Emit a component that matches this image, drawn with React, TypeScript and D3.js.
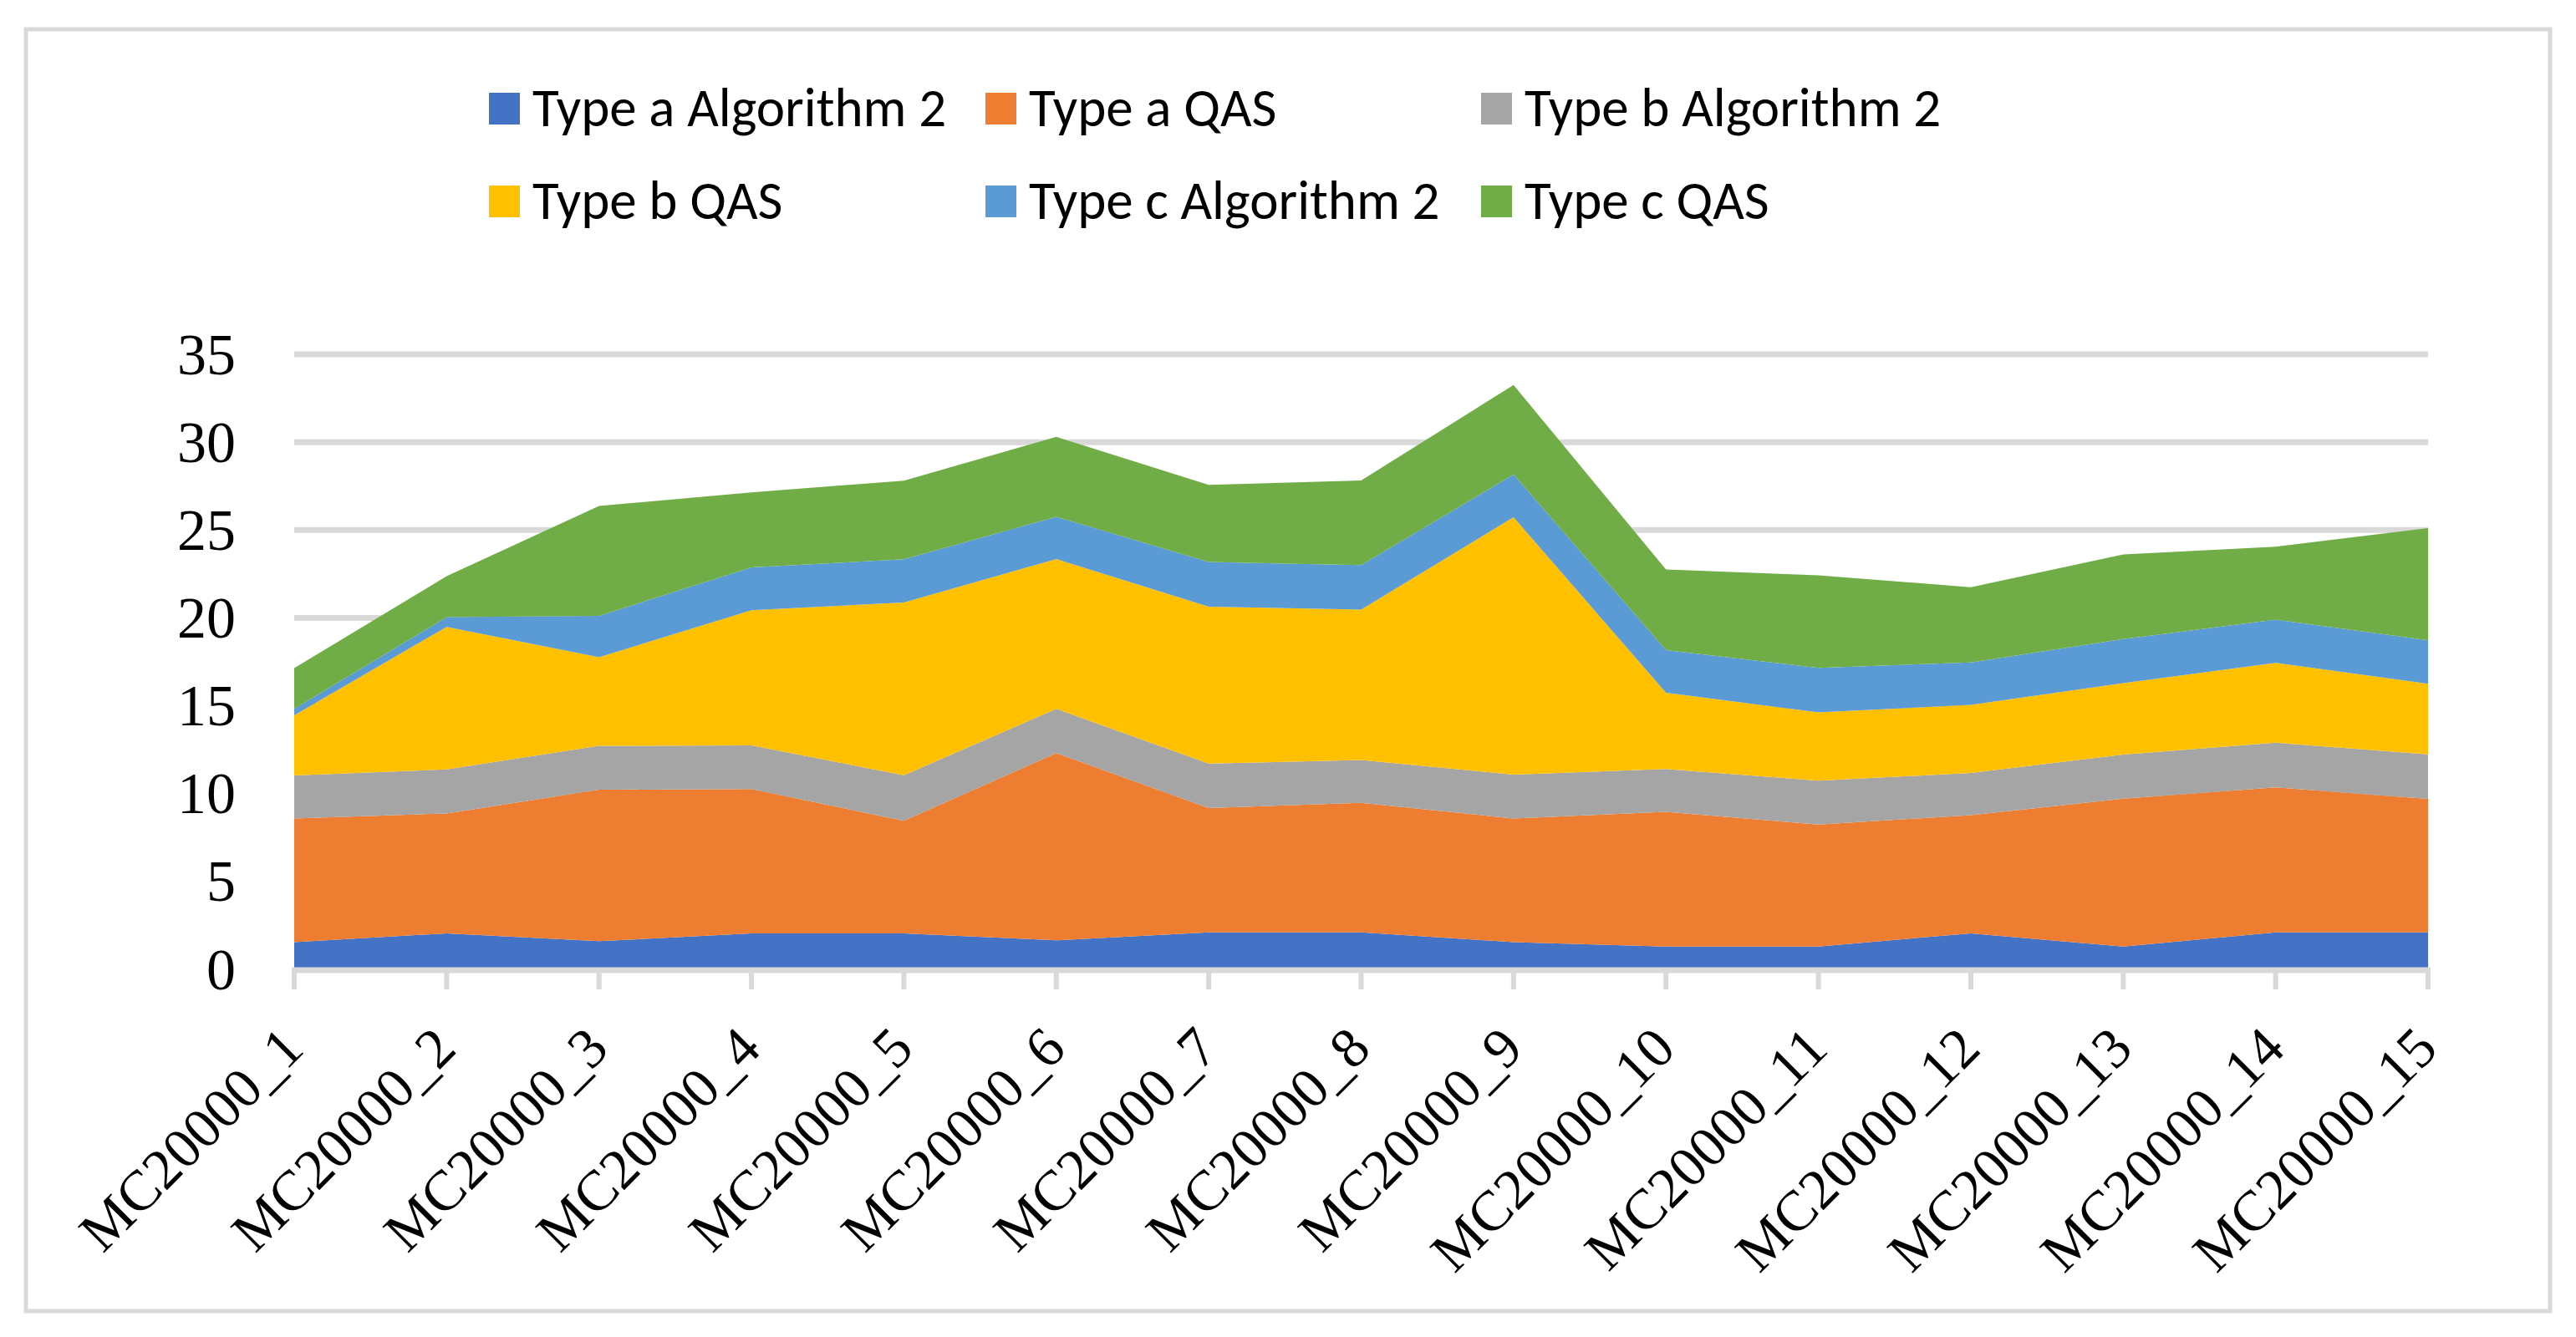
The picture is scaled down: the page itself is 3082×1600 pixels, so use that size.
import * as d3 from "d3";
import React from "react";

const categories = [
  "MC20000_1", "MC20000_2", "MC20000_3", "MC20000_4", "MC20000_5",
  "MC20000_6", "MC20000_7", "MC20000_8", "MC20000_9", "MC20000_10",
  "MC20000_11", "MC20000_12", "MC20000_13", "MC20000_14", "MC20000_15",
];

const typeAAlg2 = [1.55, 2.05, 1.6, 2.05, 2.05, 1.65, 2.1, 2.1, 1.55, 1.3, 1.3, 2.05, 1.3, 2.1, 2.1];
const typeAQAS = [7.03, 6.82, 8.62, 8.21, 6.4, 10.65, 7.08, 7.38, 7.03, 7.66, 6.94, 6.72, 8.41, 8.25, 7.6];
const typeBAlg2 = [2.45, 2.51, 2.5, 2.48, 2.6, 2.53, 2.53, 2.43, 2.5, 2.44, 2.49, 2.41, 2.51, 2.55, 2.53];
const typeBQAS = [3.43, 8.11, 5.04, 7.7, 9.83, 8.52, 8.93, 8.56, 14.65, 4.34, 3.89, 3.87, 4.07, 4.54, 4.02];
const typeCAlg2 = [0.37, 0.55, 2.36, 2.43, 2.46, 2.4, 2.54, 2.53, 2.43, 2.43, 2.54, 2.41, 2.5, 2.46, 2.48];
const typeCQAS = [2.31, 2.33, 6.25, 4.27, 4.47, 4.55, 4.39, 4.82, 5.09, 4.59, 5.26, 4.29, 4.82, 4.15, 6.38];

const yTicks = [0, 5, 10, 15, 20, 25, 30, 35];

const series = [
  { key: "aAlg2", label: "Type a Algorithm 2", color: "#4472C4", values: typeAAlg2 },
  { key: "aQAS", label: "Type a QAS", color: "#ED7D31", values: typeAQAS },
  { key: "bAlg2", label: "Type b Algorithm 2", color: "#A5A5A5", values: typeBAlg2 },
  { key: "bQAS", label: "Type b QAS", color: "#FFC000", values: typeBQAS },
  { key: "cAlg2", label: "Type c Algorithm 2", color: "#5B9BD5", values: typeCAlg2 },
  { key: "cQAS", label: "Type c QAS", color: "#70AD47", values: typeCQAS },
];

type Row = { cat: string } & Record<string, number | string>;

const W = 3082;
const H = 1600;
const m = { left: 352, right: W - 2905, top: 424, bottom: H - 1160 };
const grid = "#D9D9D9";
const axisFont = "'Palatino Linotype', 'Book Antiqua', 'Liberation Serif', serif";
const legendFont = "Carlito, Calibri, Lato, sans-serif";

export default function App() {
  const rows: Row[] = categories.map((c, i) => {
    const r: Row = { cat: c };
    series.forEach((s) => (r[s.key] = s.values[i]));
    return r;
  });

  const stack = d3.stack<Row>().keys(series.map((s) => s.key)).value((d, k) => d[k] as number);
  const layers = stack(rows);

  const x = d3.scalePoint<string>().domain(categories).range([m.left, W - m.right]);
  const y = d3.scaleLinear().domain([0, 35]).range([H - m.bottom, m.top]);

  const area = d3
    .area<d3.SeriesPoint<Row>>()
    .x((d) => x(d.data.cat) as number)
    .y0((d) => y(d[0]))
    .y1((d) => y(d[1]));

  const legendCols = [585, 1179, 1772];
  const legendRows = [130, 241];

  return (
    <>
      <style>{`body{margin:0;background:#fff}`}</style>
      <svg width={W} height={H} style={{ display: "block" }}>
        <rect x={0} y={0} width={W} height={H} fill="#fff" />
        <rect x={31} y={35} width={3020} height={1534} fill="none" stroke={grid} strokeWidth={5} />

        {/* legend */}
        {series.map((s, i) => {
          const lx = legendCols[i % 3];
          const ly = legendRows[Math.floor(i / 3)];
          return (
            <g key={s.key}>
              <rect x={lx} y={ly - 19} width={37} height={38} fill={s.color} />
              <text
                x={lx + 52}
                y={ly + 21}
                fontFamily={legendFont}
                fontSize={65}
                fill="#000"
              >
                {s.label}
              </text>
            </g>
          );
        })}

        {/* gridlines */}
        {yTicks.filter((t) => t > 0).map((t) => (
          <line key={t} x1={m.left} x2={W - m.right} y1={y(t)} y2={y(t)} stroke={grid} strokeWidth={7} />
        ))}

        {/* stacked areas */}
        {layers.map((layer, i) => (
          <path key={layer.key} d={area(layer) ?? undefined} fill={series[i].color} />
        ))}

        {/* x axis */}
        <line x1={m.left - 3} x2={W - m.right + 3} y1={y(0) + 1} y2={y(0) + 1} stroke={grid} strokeWidth={7} />
        {categories.map((c) => (
          <line
            key={c}
            x1={x(c)}
            x2={x(c)}
            y1={y(0)}
            y2={y(0) + 24}
            stroke={grid}
            strokeWidth={6}
          />
        ))}

        {/* y labels */}
        {yTicks.map((t) => (
          <text
            key={t}
            x={m.left - 70}
            y={y(t)}
            textAnchor="end"
            dominantBaseline="central"
            fontFamily={axisFont}
            fontSize={70}
            fill="#000"
          >
            {t}
          </text>
        ))}

        {/* x labels */}
        {categories.map((c) => {
          const px = (x(c) as number) + 14;
          const py = y(0) + 98;
          return (
            <text
              key={c}
              transform={`translate(${px},${py}) rotate(-45)`}
              textAnchor="end"
              fontFamily={axisFont}
              fontSize={68}
              fill="#000"
            >
              {c}
            </text>
          );
        })}
      </svg>
    </>
  );
}
